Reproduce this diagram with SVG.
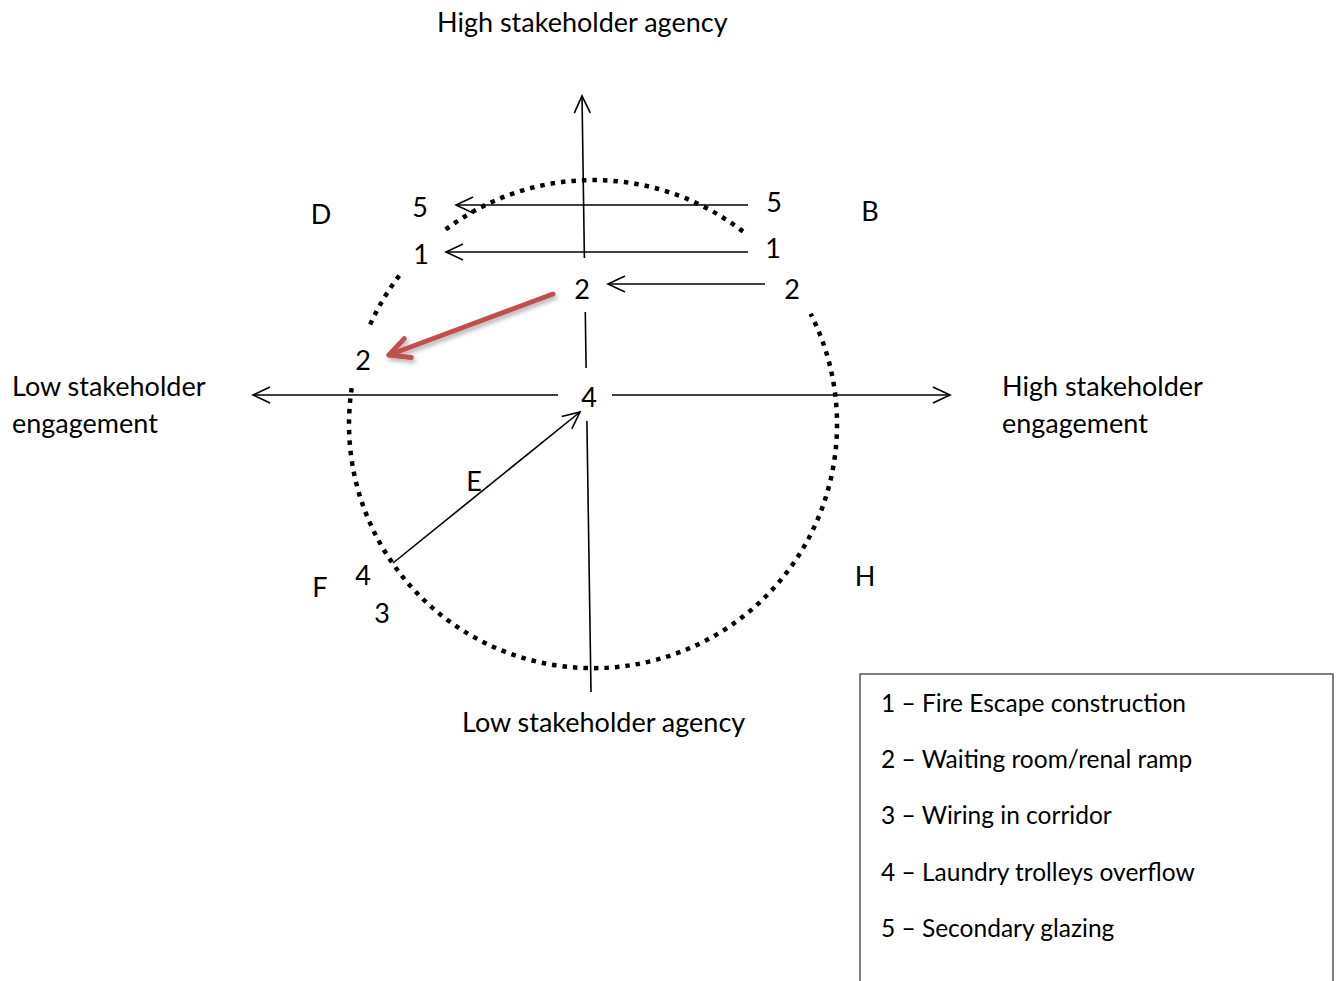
<svg xmlns="http://www.w3.org/2000/svg" width="1339" height="981" viewBox="0 0 1339 981">
<style>
text{font-family:Lato,"Open Sans","Liberation Sans",sans-serif;font-size:27px;fill:#000}
.mid{text-anchor:middle}
.leg{font-size:24.5px}
.ln{fill:none;stroke:#000;stroke-width:1.6}
.dot{fill:none;stroke:#000;stroke-width:4.5;stroke-dasharray:4.5 6}
</style>
<defs>
<marker id="open" viewBox="-20 -11 22 22" refX="0" refY="0" markerWidth="22" markerHeight="22" markerUnits="userSpaceOnUse" orient="auto" overflow="visible">
<path d="M-17,-8 L0,0 L-17,8" fill="none" stroke="#000" stroke-width="1.6"/>
</marker>
<marker id="red" viewBox="-24 -14 28 28" refX="0" refY="0" markerWidth="28" markerHeight="28" markerUnits="userSpaceOnUse" orient="auto" overflow="visible">
<path d="M-20,-10 L0,0 L-20,10" fill="none" stroke="#c0504d" stroke-width="5" stroke-linecap="round" stroke-linejoin="round"/>
</marker>
<filter id="shadow" x="-20%" y="-50%" width="140%" height="200%">
<feDropShadow dx="2" dy="3" stdDeviation="2" flood-color="#000" flood-opacity="0.3"/>
</filter>
</defs>
<rect width="1339" height="981" fill="#fff"/>

<g id="circle">
<path class="dot" d="M445.7,229.5 A244,244 0 0 1 747.0,234.8"/>
<path class="dot" d="M399.3,275.6 A244,244 0 0 0 367.8,330.0"/>
<path class="dot" d="M351.7,388.1 A244,244 0 1 0 810.6,313.7"/>
</g>

<g id="connectors">
<path class="ln" d="M584.4,258 L582,96" marker-end="url(#open)"/>
<path class="ln" d="M585.3,312 L586.1,368"/>
<path class="ln" d="M586.9,421 L591,692"/>
<path class="ln" d="M558,395 L253,395" marker-end="url(#open)"/>
<path class="ln" d="M612,395 L950,395" marker-end="url(#open)"/>
<path class="ln" d="M748,205 L456,205" marker-end="url(#open)"/>
<path class="ln" d="M748,252 L446,252" marker-end="url(#open)"/>
<path class="ln" d="M765,284 L608,284" marker-end="url(#open)"/>
<path class="ln" d="M393,563 L580,412" marker-end="url(#open)"/>
<g filter="url(#shadow)">
<path d="M553,294 L389,355" fill="none" stroke="#c0504d" stroke-width="5" stroke-linecap="round" marker-end="url(#red)"/>
</g>
</g>

<g id="axis-labels">
<text id="high-agency" x="437" y="32">High stakeholder agency</text>
<text id="low-agency" x="462" y="732">Low stakeholder agency</text>
<text id="low-engagement" x="12" y="396">Low stakeholder<tspan x="12" y="433">engagement</tspan></text>
<text id="high-engagement" x="1002" y="396">High stakeholder<tspan x="1002" y="433">engagement</tspan></text>
</g>

<g id="quadrants">
<text id="q-D" class="mid" x="321" y="224">D</text>
<text id="q-B" class="mid" x="870" y="221">B</text>
<text id="q-F" class="mid" x="320" y="597">F</text>
<text id="q-H" class="mid" x="865" y="586">H</text>
<text id="q-E" class="mid" x="474" y="491">E</text>
</g>

<g id="points">
<text id="p5-left" class="mid" x="420" y="217">5</text>
<text id="p1-left" class="mid" x="421" y="264">1</text>
<text id="p5-right" class="mid" x="774" y="212">5</text>
<text id="p1-right" class="mid" x="773" y="258">1</text>
<text id="p2-right" class="mid" x="792" y="299">2</text>
<text id="p2-center" class="mid" x="582" y="299">2</text>
<text id="p2-left" class="mid" x="363" y="370">2</text>
<text id="p4-center" class="mid" x="589" y="407">4</text>
<text id="p4-left" class="mid" x="363" y="585">4</text>
<text id="p3-left" class="mid" x="382" y="623">3</text>
</g>

<g id="legend">
<rect x="860" y="674" width="473" height="330" fill="#fff" stroke="#3a3a3a" stroke-width="1.3"/>
<text class="leg" x="881" y="712">1 – Fire Escape construction</text>
<text class="leg" x="881" y="768">2 – Waiting room/renal ramp</text>
<text class="leg" x="881" y="824">3 – Wiring in corridor</text>
<text class="leg" x="881" y="881">4 – Laundry trolleys overflow</text>
<text class="leg" x="881" y="937">5 – Secondary glazing</text>
</g>
</svg>
